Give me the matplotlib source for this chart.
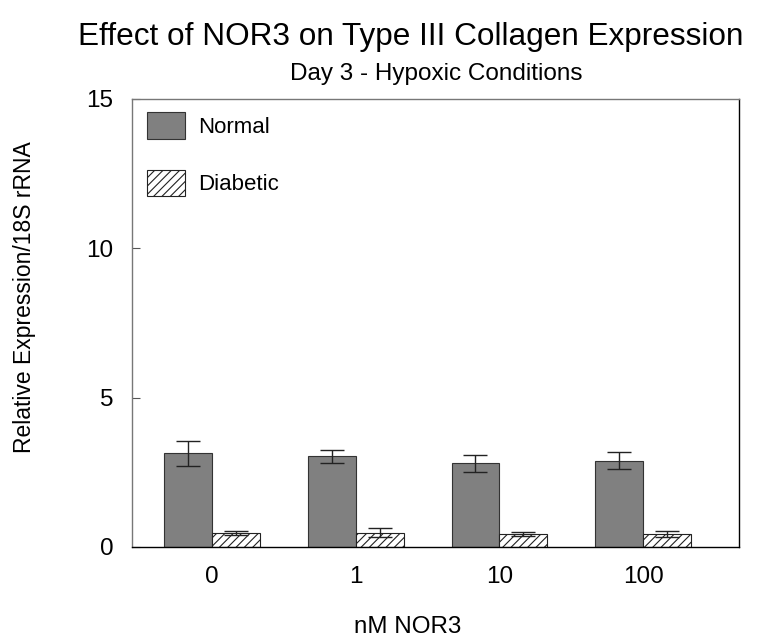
import matplotlib
matplotlib.use("Agg")
import matplotlib.pyplot as plt
import numpy as np

plt.rcParams['font.family'] = ['Liberation Sans', 'DejaVu Sans']
plt.rcParams['hatch.linewidth'] = 0.8

categories = ['0', '1', '10', '100']
normal = [3.14, 3.03, 2.80, 2.89]
normal_err = [0.42, 0.22, 0.28, 0.29]
diabetic = [0.46, 0.48, 0.43, 0.44]
diabetic_err = [0.07, 0.15, 0.07, 0.09]

fig = plt.figure(figsize=(7.64, 6.37), dpi=100)
ax = fig.add_axes([0.1728, 0.1413, 0.7945, 0.7033])

x = np.arange(len(categories))
w = 0.333
ax.bar(x - w/2, normal, w, color='#808080', edgecolor='#333333', linewidth=0.8,
       yerr=normal_err, error_kw=dict(ecolor='#222222', elinewidth=1.0, capsize=8.6, capthick=1.0),
       label='Normal', zorder=2)
ax.bar(x + w/2, diabetic, w, color='white', edgecolor='#222222', linewidth=0.8, hatch='////',
       yerr=diabetic_err, error_kw=dict(ecolor='#222222', elinewidth=1.0, capsize=8.6, capthick=1.0),
       label='Diabetic', zorder=2)

ax.set_xlim(-0.556, 3.667)
ax.set_ylim(0, 15)
ax.set_yticks([0, 5, 10, 15])
ax.set_xticks(x)
ax.set_xticklabels(categories)
ax.tick_params(axis='y', direction='in', length=6, labelsize=17.5, pad=13.5, color='#555555')
ax.tick_params(axis='x', length=0, labelsize=17.5, pad=14)
for s in ['left', 'top']:
    ax.spines[s].set_color('#777777')
for s in ['right', 'bottom']:
    ax.spines[s].set_color('black')
for s in ax.spines.values():
    s.set_linewidth(1.0)

leg = ax.legend(loc='upper left', bbox_to_anchor=(0.025, 0.970), frameon=False, fontsize=16,
                handlelength=1.71, handleheight=1.45, labelspacing=1.4,
                borderaxespad=0.0, borderpad=0.0, handletextpad=0.59)

fig.text(0.537, 1 - 45/637, 'Effect of NOR3 on Type III Collagen Expression', fontsize=22.7,
         ha='center', va='baseline')
fig.text(0.571, 1 - 80/637, 'Day 3 - Hypoxic Conditions', fontsize=17.5, ha='center', va='baseline')
fig.text(408/764, 1 - 633/637, 'nM NOR3', fontsize=17.4, ha='center', va='baseline')
fig.text(25/764, 1 - 297/637, 'Relative Expression/18S rRNA', fontsize=16.5, rotation=90,
         ha='center', va='center')

fig.savefig('out.png', dpi=100)
